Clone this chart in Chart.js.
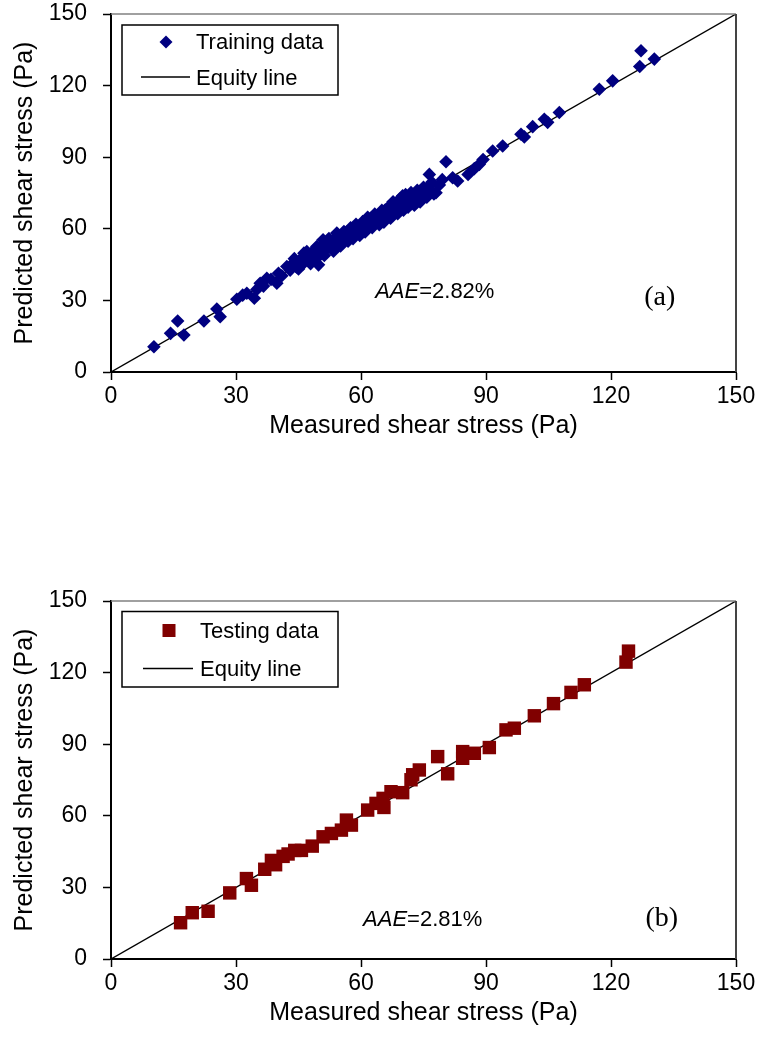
<!DOCTYPE html>
<html>
<head>
<meta charset="utf-8">
<script src="https://cdn.jsdelivr.net/npm/chart.js@4.4.0/dist/chart.umd.min.js"></script>
<style>
html,body{margin:0;padding:0;background:#fff;overflow:hidden;}
.box{position:absolute;left:0;width:759px;height:470px;}
</style>
</head>
<body>
<div class="box" style="top:0"><canvas id="chartA"></canvas></div>
<div class="box" style="top:587px"><canvas id="chartB"></canvas></div>
<script>
// training data (measured, predicted)
const trainMeasured = [10.3,14.3,16.0,17.5,22.3,25.4,26.2,30.2,31.6,32.6,34.4,35.0,35.8,36.6,37.4,38.4,39.8,40.2,41.0,42.2,
  43.0,43.7,44.5,45.4,46.0,46.8,47.0,47.6,48.3,48.6,49.2,49.4,49.8,50.3,50.9,51.4,52.0,52.6,53.0,53.7,
  54.2,54.8,55.5,56.0,56.6,57.2,57.8,58.4,59.0,59.5,60.1,60.7,61.3,61.8,62.4,63.0,63.5,64.1,64.6,65.2,
  65.8,66.3,66.9,67.4,68.0,68.5,69.0,69.5,70.0,70.4,71.0,71.6,72.4,73.0,73.8,74.5,75.3,76.4,76.0,77.0,
  78.0,78.8,80.4,79.5,82.0,83.2,85.7,87.2,88.4,89.3,91.6,94.0,98.4,99.2,101.2,104.0,104.8,107.6,117.2,120.4,
  126.9,127.2,130.4,
  44.0,45.0,46.3,47.9,49.0,50.6,51.2,52.3,53.4,54.5,55.1,55.9,56.9,57.5,58.1,58.8,59.7,60.4,61.0,61.6,
  62.7,63.3,64.4,65.0,65.5,66.6,67.1,67.7,68.8,69.3,70.2,70.7,71.3,72.0,72.8,73.5,74.2,75.0,75.8,76.7,77.5];
const trainPredicted = [10.6,16.2,21.4,15.5,21.4,26.4,23.2,30.5,32.2,33.0,30.9,34.6,37.2,36.0,39.3,38.8,37.2,41.4,40.3,44.2,
  42.7,45.6,44.0,47.0,45.2,48.6,50.5,46.9,49.5,47.0,51.8,52.6,44.9,49.3,55.4,51.0,53.6,54.0,51.7,55.8,
  58.2,53.9,57.0,55.2,58.6,56.3,59.9,57.6,60.8,58.7,62.0,59.8,63.6,61.0,64.3,62.1,65.7,63.0,66.4,64.0,
  67.9,65.2,68.8,66.0,70.5,67.4,71.5,68.6,73.8,69.5,71.0,72.7,72.3,70.5,74.5,72.8,74.0,82.8,76.5,79.5,
  75.1,78.4,88.1,80.6,81.4,80.0,82.8,85.2,87.0,89.0,92.6,94.7,99.6,98.5,102.8,105.9,104.6,108.7,118.5,122.0,
  128.0,134.6,131.1,
  47.5,43.2,49.8,45.4,48.0,52.7,48.8,55.9,50.6,56.6,52.8,58.9,54.8,60.4,55.9,61.9,57.2,63.0,58.7,64.8,
  60.5,66.2,61.7,67.7,62.8,69.1,64.4,71.3,66.3,72.5,67.8,74.3,69.0,75.2,69.9,76.1,71.2,77.4,73.2,78.2,74.6];

// testing data
const testMeasured = [16.7,19.5,23.3,28.5,32.5,33.7,36.9,38.5,39.5,41.3,42.5,44.1,45.7,48.3,50.9,52.9,55.3,56.5,57.7,61.6,
  63.6,65.3,65.5,67.2,70.0,72.0,72.4,74.0,78.4,80.8,84.4,84.4,87.2,90.8,94.8,96.8,101.6,106.2,110.4,113.6,
  123.6,124.2];
const testPredicted = [15.2,19.4,20.0,27.7,33.7,30.9,37.6,41.3,39.5,43.0,44.0,45.5,45.5,47.3,51.2,52.6,54.0,58.2,56.1,62.4,
  65.2,67.3,63.5,70.1,69.7,75.1,77.2,79.2,84.8,77.6,84.1,86.9,86.2,88.6,96.0,96.7,101.9,107.0,111.7,114.9,
  124.4,129.0];

const equityX = [0, 150];
const equityY = [0, 150];
const axisTicks = [0, 30, 60, 90, 120, 150];

const SANS = '"Liberation Sans", Arial, sans-serif';
const SERIF = '"Liberation Serif", "Times New Roman", serif';

const pts = (xs, ys) => xs.map((x,i)=>({x, y: ys[i]}));

// top/right frame of the plot area
const framePlugin = {
  id: 'frame',
  afterDraw(chart){
    const {ctx, chartArea: a} = chart;
    ctx.save();
    ctx.strokeStyle = '#808080'; ctx.lineWidth = 1.5;
    ctx.beginPath(); ctx.moveTo(a.left, a.top); ctx.lineTo(a.right, a.top); ctx.stroke();
    ctx.strokeStyle = '#444'; ctx.lineWidth = 2;
    ctx.beginPath(); ctx.moveTo(a.right, a.top); ctx.lineTo(a.right, a.bottom); ctx.stroke();
    ctx.restore();
  }
};

// boxed legend + AAE note + panel letter
const notesPlugin = {
  id: 'notes',
  afterDraw(chart, args, o){
    const {ctx, chartArea: a, scales} = chart;
    ctx.save();
    const b = o.box;
    ctx.fillStyle = '#fff';
    ctx.fillRect(a.left + b.x, a.top + b.y, b.w, b.h);
    ctx.strokeStyle = '#000'; ctx.lineWidth = 1.5;
    ctx.strokeRect(a.left + b.x, a.top + b.y, b.w, b.h);
    const ds = chart.data.datasets;
    Chart.helpers.drawPoint(ctx, {pointStyle: ds[0].pointStyle, radius: o.legendRadius, rotation: 0, borderWidth: 0},
      a.left + o.marker[0], a.top + o.marker[1]);
    ctx.fillStyle = ds[0].backgroundColor;
    ctx.fill();
    ctx.strokeStyle = '#000'; ctx.lineWidth = 1.5;
    ctx.beginPath();
    ctx.moveTo(a.left + o.line[0], a.top + o.line[2]);
    ctx.lineTo(a.left + o.line[1], a.top + o.line[2]);
    ctx.stroke();
    ctx.fillStyle = '#000';
    ctx.font = '22px ' + SANS;
    ctx.textBaseline = 'middle'; ctx.textAlign = 'left';
    ctx.fillText(ds[0].label, a.left + o.textX, a.top + o.text1Y);
    ctx.fillText(ds[1].label, a.left + o.textX, a.top + o.text2Y);

    let x = scales.x.getPixelForValue(o.aae.x);
    const y = scales.y.getPixelForValue(o.aae.y);
    ctx.font = 'italic 22px ' + SANS;
    ctx.fillText('AAE', x, y);
    x += ctx.measureText('AAE').width;
    ctx.font = '22px ' + SANS;
    ctx.fillText('=' + o.aae.text, x, y);

    ctx.font = '28px ' + SERIF;
    ctx.textAlign = 'center';
    ctx.fillText(o.panel.text, scales.x.getPixelForValue(o.panel.x), scales.y.getPixelForValue(o.panel.y));
    ctx.restore();
  }
};

function axis(titleText, isX){
  return {
    type: 'linear', min: 0, max: 150,
    afterBuildTicks: s => { s.ticks = axisTicks.map(v=>({value: v})); },
    afterFit: s => {
      if(isX){ s.height = 98; s.paddingLeft = 0; s.paddingRight = 0; }
      else { s.width = 111; s.paddingTop = 0; s.paddingBottom = 0; }
    },
    grid: {drawOnChartArea: false, tickLength: 8, tickWidth: 1.5, tickColor: '#000'},
    border: {color: '#000', width: 2},
    ticks: {color: '#000', font: {family: SANS, size: 23}, padding: isX ? 3 : 16, maxRotation: 0},
    title: {display: true, text: titleText, color: '#000', font: {family: SANS, size: 25},
      padding: isX ? {top: 0, bottom: 29} : {top: 10, bottom: 0}}
  };
}

function makeChart(id, label, xs, ys, style, radius, color, notes){
  return new Chart(document.getElementById(id), {
    type: 'scatter',
    data: { datasets: [
      { label, data: pts(xs, ys), pointStyle: style, pointRadius: radius, pointHoverRadius: radius,
        backgroundColor: color, borderColor: color, borderWidth: 0 },
      { type: 'line', label: 'Equity line', data: pts(equityX, equityY), borderColor: '#000',
        borderWidth: 1.4, pointRadius: 0, fill: false }
    ]},
    options: {
      responsive: true, maintainAspectRatio: false, animation: false,
      layout: {padding: {top: 14, right: 23, left: 0, bottom: 0}},
      plugins: {legend: {display: false}, tooltip: {enabled: false}, notes},
      scales: {
        x: axis('Measured shear stress (Pa)', true),
        y: axis('Predicted shear stress (Pa)', false)
      }
    },
    plugins: [framePlugin, notesPlugin]
  });
}

makeChart('chartA', 'Training data', trainMeasured, trainPredicted, 'rectRot', 6.8, '#000080', {
  box: {x: 11, y: 11, w: 216, h: 70},
  marker: [55, 28], legendRadius: 6.5,
  line: [30, 79, 63], textX: 85, text1Y: 29, text2Y: 65,
  aae: {x: 63.4, y: 33.6, text: '2.82%'},
  panel: {x: 131.7, y: 31.1, text: '(a)'}
});

makeChart('chartB', 'Testing data', testMeasured, testPredicted, 'rect', 9.5, '#800000', {
  box: {x: 11, y: 10.5, w: 216, h: 75.5},
  marker: [58, 29.5], legendRadius: 9.2,
  line: [32, 82, 67.5], textX: 89, text1Y: 31, text2Y: 69,
  aae: {x: 60.5, y: 16.2, text: '2.81%'},
  panel: {x: 132.2, y: 17, text: '(b)'}
});
</script>
</body>
</html>
